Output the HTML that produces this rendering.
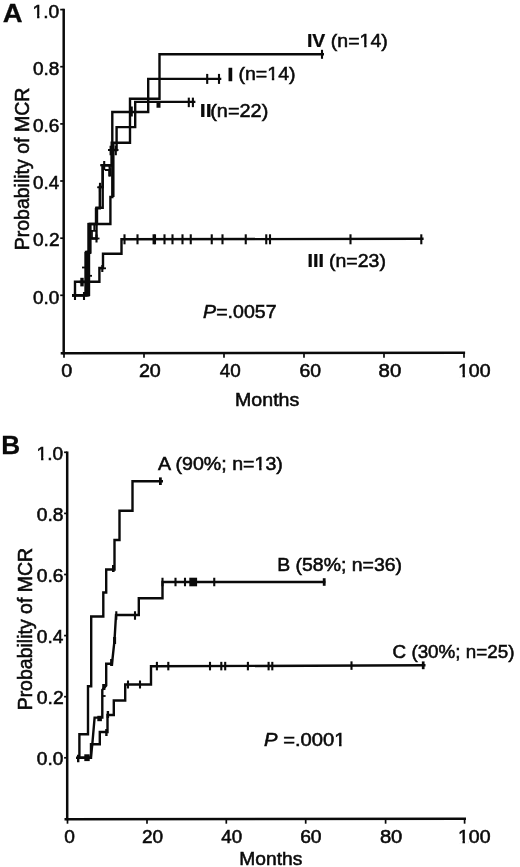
<!DOCTYPE html>
<html><head><meta charset="utf-8"><title>MCR</title>
<style>
html,body{margin:0;padding:0;background:#fff;}
body{width:520px;height:867px;overflow:hidden;font-family:"Liberation Sans",sans-serif;}
svg{display:block;filter:grayscale(1) blur(0.35px);}
svg text{font-family:"Liberation Sans",sans-serif;fill:#0a0a0a;stroke:#0a0a0a;stroke-width:0.55px;}
</style></head><body>
<svg width="520" height="867" viewBox="0 0 520 867" stroke="#0a0a0a" stroke-linecap="butt" stroke-linejoin="miter">
<rect x="0" y="0" width="520" height="867" fill="#fff" stroke="none"/>
<g>
<g transform="translate(32.575,17.80) scale(1.0382,1)"><text font-size="18.5" x="0.00 10.29 15.43">1.0</text><rect x="0.37" y="-2.74" width="3.96" height="3.94" fill="#fff" stroke="none"/><rect x="6.61" y="-2.74" width="3.48" height="3.94" fill="#fff" stroke="none"/></g>
<g transform="translate(32.940,74.90) scale(1.0274,1)"><text font-size="18.5" x="0.00 10.29 15.43">0.8</text></g>
<g transform="translate(32.940,132.10) scale(1.0274,1)"><text font-size="18.5" x="0.00 10.29 15.43">0.6</text></g>
<g transform="translate(32.945,189.20) scale(1.0197,1)"><text font-size="18.5" x="0.00 10.29 15.43">0.4</text></g>
<g transform="translate(32.934,246.40) scale(1.0353,1)"><text font-size="18.5" x="0.00 10.29 15.43">0.2</text></g>
<g transform="translate(32.943,303.50) scale(1.0235,1)"><text font-size="18.5" x="0.00 10.29 15.43">0.0</text></g>
<g transform="translate(61.208,376.70) scale(1.0698,1)"><text font-size="18.5">0</text></g>
<g transform="translate(138.915,376.70) scale(1.0653,1)"><text font-size="18.5" x="0.00 10.29">20</text></g>
<g transform="translate(219.723,376.70) scale(1.0196,1)"><text font-size="18.5" x="0.00 10.29">40</text></g>
<g transform="translate(299.529,376.70) scale(1.0494,1)"><text font-size="18.5" x="0.00 10.29">60</text></g>
<g transform="translate(378.583,376.70) scale(1.1021,1)"><text font-size="18.5" x="0.00 10.29">80</text></g>
<g transform="translate(457.943,376.70) scale(1.0564,1)"><text font-size="18.5" x="0.00 10.29 20.58">100</text><rect x="0.37" y="-2.74" width="3.96" height="3.94" fill="#fff" stroke="none"/><rect x="6.61" y="-2.74" width="3.48" height="3.94" fill="#fff" stroke="none"/></g>
<g transform="translate(235.033,406.30) scale(1.0589,1)"><text font-size="18.5" x="0.00 15.41 25.70 35.99 41.13 51.42">Months</text></g>
<g transform="translate(2.813,22.20) scale(1.0985,1)"><text font-size="25" font-weight="bold" style="stroke-width:0.25px">A</text></g>
<g transform="translate(29.3,248.8) rotate(-90) scale(1.0064,1) translate(-1.552,0)"><text font-size="19.4" x="0.00 12.94 19.40 30.19 40.98 51.77 62.56 66.87 71.18 75.49 80.88 90.58 95.97 106.76 112.15 117.54 133.70 147.71">Probability of MCR</text></g>
<g transform="translate(203.113,317.50) scale(1.0749,1)"><text font-size="18.2" x="0.00 12.14 22.77 27.82 37.95 48.07 58.19"><tspan font-style="italic">P</tspan>=.0057</text></g>
<g transform="translate(306.937,46.90) scale(1.1102,1)"><text font-size="17.5" x="0.00 4.86" font-weight="bold" style="stroke-width:0.25px">IV</text></g>
<g transform="translate(330.828,46.90) scale(1.0391,1)"><text font-size="18.8" x="0.00 6.26 16.72 27.70 38.15 48.61">(n=14)</text><rect x="28.07" y="-2.77" width="4.03" height="3.97" fill="#fff" stroke="none"/><rect x="34.40" y="-2.77" width="3.54" height="3.97" fill="#fff" stroke="none"/></g>
<g transform="translate(227.221,80.60) scale(1.3005,1)"><text font-size="17.5" font-weight="bold" style="stroke-width:0.25px">I</text></g>
<g transform="translate(238.426,80.30) scale(1.0410,1)"><text font-size="18.8" x="0.00 6.26 16.72 27.70 38.15 48.61">(n=14)</text><rect x="28.07" y="-2.77" width="4.03" height="3.97" fill="#fff" stroke="none"/><rect x="34.40" y="-2.77" width="3.54" height="3.97" fill="#fff" stroke="none"/></g>
<g transform="translate(199.824,116.80) scale(1.2101,1)"><text font-size="17.5" x="0.00 4.86" font-weight="bold" style="stroke-width:0.25px">II</text></g>
<g transform="translate(210.206,116.90) scale(1.0581,1)"><text font-size="18.8" x="0.00 6.26 16.72 27.70 38.15 48.61">(n=22)</text></g>
<g transform="translate(307.519,266.80) scale(1.1265,1)"><text font-size="17.5" x="0.00 4.86 9.72" font-weight="bold" style="stroke-width:0.25px">III</text></g>
<g transform="translate(329.030,266.80) scale(1.0372,1)"><text font-size="18.8" x="0.00 6.26 16.72 27.70 38.15 48.61">(n=23)</text></g>
<g transform="translate(36.583,459.80) scale(1.0339,1)"><text font-size="18.5" x="0.00 10.29 15.43">1.0</text><rect x="0.37" y="-2.74" width="3.96" height="3.94" fill="#fff" stroke="none"/><rect x="6.61" y="-2.74" width="3.48" height="3.94" fill="#fff" stroke="none"/></g>
<g transform="translate(36.831,520.90) scale(1.0398,1)"><text font-size="18.5" x="0.00 10.29 15.43">0.8</text></g>
<g transform="translate(36.831,582.00) scale(1.0398,1)"><text font-size="18.5" x="0.00 10.29 15.43">0.6</text></g>
<g transform="translate(36.836,643.10) scale(1.0319,1)"><text font-size="18.5" x="0.00 10.29 15.43">0.4</text></g>
<g transform="translate(36.825,704.20) scale(1.0478,1)"><text font-size="18.5" x="0.00 10.29 15.43">0.2</text></g>
<g transform="translate(36.833,765.30) scale(1.0359,1)"><text font-size="18.5" x="0.00 10.29 15.43">0.0</text></g>
<g transform="translate(64.233,842.70) scale(1.0360,1)"><text font-size="18.5">0</text></g>
<g transform="translate(142.049,842.70) scale(1.0283,1)"><text font-size="18.5" x="0.00 10.29">20</text></g>
<g transform="translate(221.325,842.70) scale(1.0145,1)"><text font-size="18.5" x="0.00 10.29">40</text></g>
<g transform="translate(300.134,842.70) scale(1.0442,1)"><text font-size="18.5" x="0.00 10.29">60</text></g>
<g transform="translate(379.891,842.70) scale(1.0916,1)"><text font-size="18.5" x="0.00 10.29">80</text></g>
<g transform="translate(457.943,842.70) scale(1.0564,1)"><text font-size="18.5" x="0.00 10.29 20.58">100</text><rect x="0.37" y="-2.74" width="3.96" height="3.94" fill="#fff" stroke="none"/><rect x="6.61" y="-2.74" width="3.48" height="3.94" fill="#fff" stroke="none"/></g>
<g transform="translate(239.263,865.00) scale(1.0384,1)"><text font-size="18.5" x="0.00 15.41 25.70 35.99 41.13 51.42">Months</text></g>
<g transform="translate(1.295,454.40) scale(1.0166,1)"><text font-size="25.8" font-weight="bold" style="stroke-width:0.25px">B</text></g>
<g transform="translate(31.7,708.8) rotate(-90) scale(1.0046,1) translate(-1.552,0)"><text font-size="19.4" x="0.00 12.94 19.40 30.19 40.98 51.77 62.56 66.87 71.18 75.49 80.88 90.58 95.97 106.76 112.15 117.54 133.70 147.71">Probability of MCR</text></g>
<g transform="translate(264.094,746.30) scale(1.1105,1)"><text font-size="18.2" x="0.00 12.14 17.20 27.82 32.88 43.00 53.13 63.25"><tspan font-style="italic">P</tspan> =.0001</text><rect x="63.61" y="-2.72" width="3.89" height="3.92" fill="#fff" stroke="none"/><rect x="69.75" y="-2.72" width="3.41" height="3.92" fill="#fff" stroke="none"/></g>
<g transform="translate(158.100,469.80) scale(1.0596,1)"><text font-size="18.5" x="0.00 12.34 16.46 22.62 32.91 43.20 59.65 64.79 69.93 80.22 91.02 101.31 111.60">A (90%; n=13)</text><rect x="91.39" y="-2.74" width="3.96" height="3.94" fill="#fff" stroke="none"/><rect x="97.63" y="-2.74" width="3.48" height="3.94" fill="#fff" stroke="none"/></g>
<g transform="translate(277.246,571.00) scale(1.0501,1)"><text font-size="18.5" x="0.00 12.34 17.48 23.64 33.93 44.22 60.67 65.81 70.95 81.24 92.04 102.33 112.62">B (58%; n=36)</text></g>
<g transform="translate(392.559,657.70) scale(1.0174,1)"><text font-size="18.5" x="0.00 13.36 18.50 24.66 34.95 45.24 61.69 66.83 71.97 82.26 93.06 103.35 113.64">C (30%; n=25)</text></g>
</g>
<g>
<line x1="63.7" y1="8.8" x2="63.7" y2="354.40000000000003" stroke-width="2.5"/>
<line x1="60.7" y1="353.3" x2="465.1" y2="352.7" stroke-width="2.4"/>
<line x1="60.2" y1="9.6" x2="63.7" y2="9.6" stroke-width="1.7"/>
<line x1="60.2" y1="66.7" x2="63.7" y2="66.7" stroke-width="1.7"/>
<line x1="60.2" y1="123.9" x2="63.7" y2="123.9" stroke-width="1.7"/>
<line x1="60.2" y1="181" x2="63.7" y2="181" stroke-width="1.7"/>
<line x1="60.2" y1="238.2" x2="63.7" y2="238.2" stroke-width="1.7"/>
<line x1="60.2" y1="295.3" x2="63.7" y2="295.3" stroke-width="1.7"/>
<line x1="64" y1="353.3" x2="64" y2="357.8" stroke-width="1.7"/>
<line x1="144" y1="353.3" x2="144" y2="357.8" stroke-width="1.7"/>
<line x1="224" y1="353.3" x2="224" y2="357.8" stroke-width="1.7"/>
<line x1="304" y1="353.3" x2="304" y2="357.8" stroke-width="1.7"/>
<line x1="384" y1="353.3" x2="384" y2="357.8" stroke-width="1.7"/>
<line x1="464" y1="353.3" x2="464" y2="357.8" stroke-width="1.7"/>
<path d="M72,295.3 H75 V281.7 H99.4 V268 H103 V253.8 H121.5 V239.3 L423.6,238.8" stroke-width="2.4" fill="none"/>
<line x1="124.5" y1="234.3" x2="124.5" y2="244.3" stroke-width="2.1"/>
<line x1="137.5" y1="234.3" x2="137.5" y2="244.3" stroke-width="2.1"/>
<line x1="153.6" y1="234.3" x2="153.6" y2="244.3" stroke-width="2.1"/>
<line x1="155" y1="234.3" x2="155" y2="244.3" stroke-width="2.1"/>
<line x1="164.5" y1="234.3" x2="164.5" y2="244.3" stroke-width="2.1"/>
<line x1="172.5" y1="234.3" x2="172.5" y2="244.3" stroke-width="2.1"/>
<line x1="182.5" y1="234.3" x2="182.5" y2="244.3" stroke-width="2.1"/>
<line x1="190.75" y1="234.3" x2="190.75" y2="244.3" stroke-width="2.1"/>
<line x1="211.75" y1="234.3" x2="211.75" y2="244.3" stroke-width="2.1"/>
<line x1="222.5" y1="234.3" x2="222.5" y2="244.3" stroke-width="2.1"/>
<line x1="245.75" y1="234.3" x2="245.75" y2="244.3" stroke-width="2.1"/>
<line x1="266.25" y1="234.3" x2="266.25" y2="244.3" stroke-width="2.1"/>
<line x1="270" y1="234.3" x2="270" y2="244.3" stroke-width="2.1"/>
<line x1="350.5" y1="234.3" x2="350.5" y2="244.3" stroke-width="2.1"/>
<line x1="421.3" y1="234.3" x2="421.3" y2="244.3" stroke-width="2.1"/>
<line x1="102.3" y1="265.0" x2="102.3" y2="272.0" stroke-width="2.1"/>
<line x1="75" y1="292.0" x2="75" y2="300.0" stroke-width="2.1"/>
<line x1="84" y1="292.0" x2="84" y2="300.0" stroke-width="2.1"/>
<path d="M72,295.3 H87.3 V252 H89.5 V238.5 H96.5 V207.7 H102.7 V165.2 H111.7 V142.8 H130 V98.8 H159.5 V54.3 H324" stroke-width="2.4" fill="none"/>
<line x1="322" y1="49.8" x2="322" y2="58.8" stroke-width="2.1"/>
<path d="M72,295.3 H86 V252 H88.8 V224 H110.4 V197 H112.3 V112 H148.2 V78.9 H221.3" stroke-width="2.4" fill="none"/>
<line x1="207.2" y1="73.9" x2="207.2" y2="83.9" stroke-width="2.1"/>
<line x1="219" y1="73.9" x2="219" y2="83.9" stroke-width="2.1"/>
<path d="M72,295.3 H88.5 V252 H90.2 V224 H96.5 V208.3 H99.8 V187 H102.7 V165.2 H111.9 V150 H116.6 V127.1 H135.2 V101.9 H195.4" stroke-width="2.4" fill="none"/>
<line x1="188.8" y1="97.65" x2="188.8" y2="107.15" stroke-width="2.1"/>
<line x1="192.9" y1="97.65" x2="192.9" y2="107.15" stroke-width="2.1"/>
<line x1="96.5" y1="234.5" x2="96.5" y2="242.5" stroke-width="2.1"/>
<line x1="92" y1="238.5" x2="99.5" y2="238.5" stroke-width="1.8"/>
<line x1="100" y1="182.8" x2="100" y2="191.8" stroke-width="2.1"/>
<line x1="97.2" y1="187.3" x2="102.7" y2="187.3" stroke-width="1.8"/>
<line x1="104.2" y1="161.0" x2="104.2" y2="170.0" stroke-width="2.1"/>
<line x1="110.6" y1="145.75" x2="110.6" y2="155.25" stroke-width="2.1"/>
<line x1="115.8" y1="145.75" x2="115.8" y2="155.25" stroke-width="2.1"/>
<line x1="108" y1="150" x2="118.5" y2="150" stroke-width="2"/>
<line x1="131.4" y1="106.5" x2="131.4" y2="116.5" stroke-width="2.8"/>
<line x1="158.5" y1="101.25" x2="158.5" y2="107.75" stroke-width="4"/>
<line x1="113.4" y1="142" x2="113.4" y2="197" stroke-width="2.3"/>
<line x1="100.2" y1="165.2" x2="103" y2="165.2" stroke-width="2.2"/>
<line x1="96.5" y1="208" x2="96.5" y2="224.5" stroke-width="3.4"/>
<path d="M104.8,170 H109.2 V176.5" stroke-width="2" fill="none"/>
<line x1="109.6" y1="166" x2="110.4" y2="176.5" stroke-width="2.4"/>
<line x1="87.3" y1="296" x2="87.3" y2="252" stroke-width="5.8"/>
<line x1="89.4" y1="254" x2="89.4" y2="223" stroke-width="3.9"/>
<path d="M90,230.8 H96 M94.2,224 V230.8 M92,231 V238.5" stroke-width="1.7" fill="none"/>
<line x1="82" y1="277.8" x2="82" y2="286.4" stroke-width="3.4"/>
<line x1="79.5" y1="282" x2="85" y2="282" stroke-width="2.5"/>
<line x1="82" y1="267.5" x2="86" y2="267.5" stroke-width="1.8"/>
<line x1="89" y1="275.8" x2="92" y2="275.8" stroke-width="1.8"/>
<line x1="99.4" y1="268.3" x2="106" y2="268.3" stroke-width="1.8"/>
<line x1="67.2" y1="451.6" x2="67.2" y2="820.3000000000001" stroke-width="2.5"/>
<line x1="64.5" y1="819.2" x2="466" y2="818.7" stroke-width="2.4"/>
<line x1="64.1" y1="452.3" x2="67.2" y2="452.3" stroke-width="1.7"/>
<line x1="64.1" y1="513.4" x2="67.2" y2="513.4" stroke-width="1.7"/>
<line x1="64.1" y1="574.5" x2="67.2" y2="574.5" stroke-width="1.7"/>
<line x1="64.1" y1="635.6" x2="67.2" y2="635.6" stroke-width="1.7"/>
<line x1="64.1" y1="696.7" x2="67.2" y2="696.7" stroke-width="1.7"/>
<line x1="64.1" y1="757.8" x2="67.2" y2="757.8" stroke-width="1.7"/>
<line x1="67.5" y1="819.2" x2="67.5" y2="823.7" stroke-width="1.7"/>
<line x1="147" y1="819.2" x2="147" y2="823.7" stroke-width="1.7"/>
<line x1="226.3" y1="819.2" x2="226.3" y2="823.7" stroke-width="1.7"/>
<line x1="305.7" y1="819.2" x2="305.7" y2="823.7" stroke-width="1.7"/>
<line x1="385.6" y1="819.2" x2="385.6" y2="823.7" stroke-width="1.7"/>
<line x1="464.6" y1="819.2" x2="464.6" y2="823.7" stroke-width="1.7"/>
<path d="M76,757.8 H79.4 V734.2 H88 V686.2 H91.2 V616.5 H103.3 V592.5 H106.2 V569.5 H114.5 V540 H119.5 V510.8 H132.5 V481.3 H163" stroke-width="2.4" fill="none"/>
<line x1="160.4" y1="477.4" x2="160.4" y2="485.0" stroke-width="2.8"/>
<line x1="113.3" y1="565.0" x2="113.3" y2="572.0" stroke-width="2.6"/>
<line x1="78.2" y1="754.75" x2="78.2" y2="762.25" stroke-width="2.4"/>
<path d="M78,757.8 H90.8 L92.3,744.5 L94.6,717.6 H102.3 V690 L106.2,685.5 V663.7 H112 L114.5,640.5 L116,615 H138.8 V598.3 H162.5 V582 H325.4" stroke-width="2.4" fill="none"/>
<line x1="162.5" y1="577.75" x2="162.5" y2="586.25" stroke-width="2.1"/>
<line x1="175.5" y1="577.75" x2="175.5" y2="586.25" stroke-width="2.1"/>
<line x1="185" y1="577.75" x2="185" y2="586.25" stroke-width="2.1"/>
<line x1="214.25" y1="577.75" x2="214.25" y2="586.25" stroke-width="2.1"/>
<line x1="324.2" y1="578.2" x2="324.2" y2="585.8" stroke-width="2.8"/>
<rect x="189.3" y="577.7" width="7.8" height="8.6" stroke="none" fill="#0a0a0a"/>
<line x1="135" y1="611.25" x2="135" y2="619.75" stroke-width="2.1"/>
<line x1="116.3" y1="611.25" x2="116.3" y2="619.75" stroke-width="2.1"/>
<line x1="114.6" y1="637.0" x2="114.6" y2="644.0" stroke-width="3"/>
<line x1="111.6" y1="659.0" x2="111.6" y2="666.0" stroke-width="3"/>
<line x1="103.8" y1="684.0" x2="103.8" y2="690.0" stroke-width="3.2"/>
<line x1="102.3" y1="696" x2="105.6" y2="696" stroke-width="1.8"/>
<rect x="97.3" y="715.8" width="4.6" height="5.4" stroke="none" fill="#0a0a0a"/>
<rect x="84.3" y="754.3" width="5.4" height="6.8" stroke="none" fill="#0a0a0a"/>
<path d="M78,757.8 H91 V744.3 H99.8 V732 H107.5 V715 H113.8 V700.5 H125.2 V684.5 H151 V666.3 L425.5,665.3" stroke-width="2.4" fill="none"/>
<line x1="156.9" y1="661.85" x2="156.9" y2="670.35" stroke-width="2.1"/>
<line x1="168.3" y1="661.85" x2="168.3" y2="670.35" stroke-width="2.1"/>
<line x1="210" y1="661.85" x2="210" y2="670.35" stroke-width="2.1"/>
<line x1="221.3" y1="661.85" x2="221.3" y2="670.35" stroke-width="2.1"/>
<line x1="225.2" y1="661.85" x2="225.2" y2="670.35" stroke-width="2.1"/>
<line x1="247.9" y1="661.85" x2="247.9" y2="670.35" stroke-width="2.1"/>
<line x1="268.6" y1="661.85" x2="268.6" y2="670.35" stroke-width="2.1"/>
<line x1="272.3" y1="661.85" x2="272.3" y2="670.35" stroke-width="2.1"/>
<line x1="351.5" y1="661.35" x2="351.5" y2="669.85" stroke-width="2.1"/>
<line x1="423.2" y1="661.4" x2="423.2" y2="669.1999999999999" stroke-width="2.7"/>
<line x1="128" y1="680.5" x2="128" y2="688.5" stroke-width="2.1"/>
<line x1="140" y1="680.5" x2="140" y2="688.5" stroke-width="2.1"/>
<line x1="106.4" y1="729.0" x2="106.4" y2="736.0" stroke-width="2.4"/>
<line x1="107.9" y1="711.0" x2="107.9" y2="718.0" stroke-width="2.4"/>
</g>
</svg>
</body></html>
